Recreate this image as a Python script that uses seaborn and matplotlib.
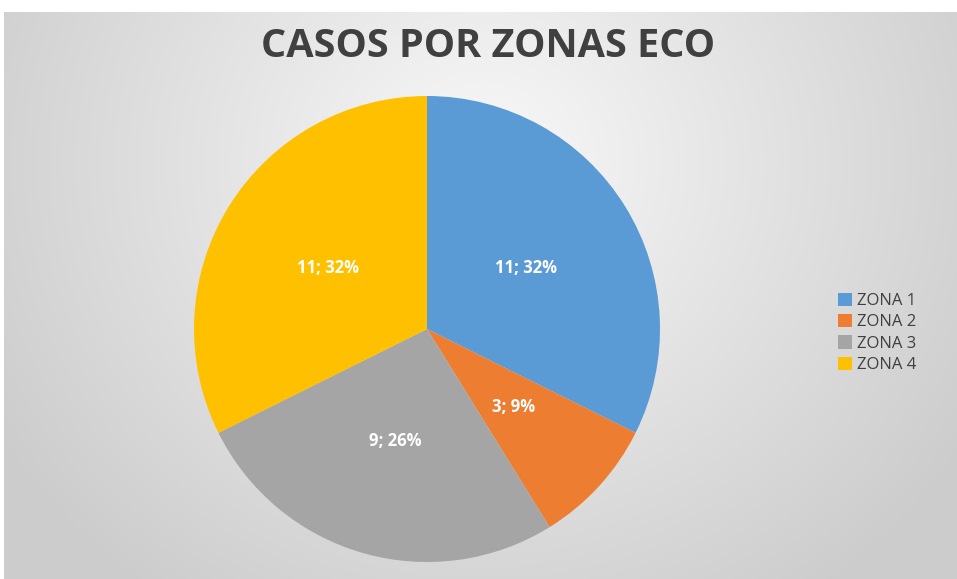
import numpy as np
import matplotlib.pyplot as plt
import seaborn as sns

zonas = ["ZONA 1", "ZONA 2", "ZONA 3", "ZONA 4"]
casos = [11, 3, 9, 11]
colores = ["#5B9BD5", "#ED7D31", "#A5A5A5", "#FFC000"]
titulo = "CASOS POR ZONAS ECO"

sns.set_theme(style="white")
plt.rcParams["font.family"] = ["Open Sans", "DejaVu Sans"]

fig = plt.figure(figsize=(9.57, 5.79), dpi=100)
fig.patch.set_facecolor("white")

# fondo gris con degradado radial
bg = fig.add_axes([4 / 957, 0, 953 / 957, 567 / 579])
yy, xx = np.mgrid[0:567, 0:953]
d = np.sqrt(((xx - 480) / 560.0) ** 2 + ((yy - 150) / 520.0) ** 2)
g = np.clip(0.975 - 0.17 * d, 0.80, 0.975)
bg.imshow(np.dstack([g, g, g]), aspect="auto", extent=[0, 1, 0, 1], origin="upper")
bg.set_axis_off()

ax = fig.add_axes([194 / 957, 17 / 579, 466 / 957, 466 / 579])
total = sum(casos)
wedges, texts, autotexts = ax.pie(
    casos,
    colors=sns.color_palette(colores),
    startangle=90,
    counterclock=False,
    autopct=lambda p: f"{int(round(p * total / 100))}; {p:.0f}%",
    pctdistance=0.5,
    wedgeprops=dict(linewidth=0),
    textprops=dict(color="white", fontsize=12, fontweight="bold"),
)
ax.set_xlim(-1, 1)
ax.set_ylim(-1, 1)
ax.set_aspect("equal")
ax.set_axis_off()

fig.text(0.51, 0.92, titulo, ha="center", va="center", fontsize=28.5,
         fontweight="bold", color="#404040")

fig.legend(wedges, zonas, loc="center left", bbox_to_anchor=(0.86, 0.425),
           frameon=False, fontsize=12, handlelength=0.85, handleheight=0.85,
           handletextpad=0.3, labelspacing=0.3, labelcolor="#404040")

fig.savefig("out.png", dpi=100)
